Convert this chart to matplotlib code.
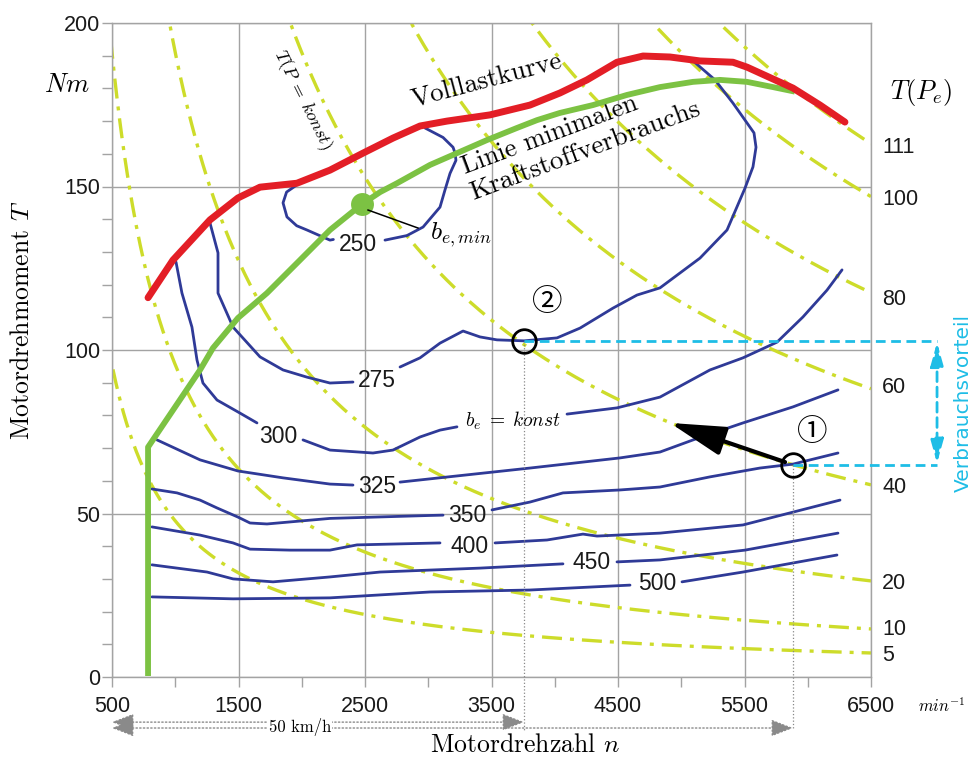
import numpy as np
import matplotlib
matplotlib.use("Agg")
import matplotlib.pyplot as plt

plt.rcParams['mathtext.fontset'] = 'cm'
plt.rcParams['font.family'] = ['Liberation Sans', 'DejaVu Sans']

nan = np.nan

# ---------------- data ----------------
full_load_n = [785, 982, 1275, 1496, 1670, 1962, 2223, 2484, 2721, 2935, 3148, 3488, 3804,
               4041, 4255, 4492, 4698, 4911, 5148, 5409, 5520, 5883, 6097, 6294]
full_load_T = [116, 127.5, 139.8, 146.5, 149.8, 151, 155, 160.2, 164.8, 168.5, 170, 171.9, 174.9,
               178.6, 182.6, 188, 189.9, 189.6, 188.4, 188, 186.5, 180.1, 174.9, 169.7]

min_cons_n = [785, 785, 982, 1196, 1298, 1496, 1725, 1986, 2223, 2476, 2620, 2753, 3014, 3227,
              3464, 3701, 3860, 4041, 4302, 4571, 4832, 5093, 5306, 5520, 5725, 5875]
min_cons_T = [1.2, 70.3, 81.6, 93.9, 100.6, 109.8, 117.4, 127.5, 136.7, 144.6, 148.3, 151, 156.6,
              160.2, 164.2, 167.9, 170.3, 172.5, 174.9, 178, 180.4, 182, 182.6, 182, 180.4, 179.2]

be_min_n, be_min_T = 2476, 144.6

# iso-power lines: power levels (kW)
power_kw = [5, 10, 20, 40, 60, 80, 100, 111]
power_label_T = [6.7, 14.4, 28.7, 57.8, 88.4, 115.3, 145.9, 162]

# lines of constant specific consumption b_e (g/kWh); nan = gap for the label
be250_n = [1962, 1880, 1852, 1883, 1960, 2041, 2223, 2250, nan, 2658, 2832, 2959, 3093, 3132, 3172,
           3219, 3212, 3196, 3117, 2974]
be250_T = [150.5, 148.3, 145, 140.7, 138, 136.7, 133.6, 133.8, nan, 133.6, 135, 137.6, 143.7, 148.9, 154,
           158, 160.2, 162, 165, 167.9]

be275_n = [1275, 1338, 1338, 1457, 1670, 1852, 2041, 2223, 2405, nan, 2777, 2935, 3093, 3275, 3409, 3543,
           3757, 4018, 4200, 4460, 4650, 4832, 5148, 5362, 5504, 5567, 5591, 5575, 5504, 5409, 5267, 5085]
be275_T = [138.8, 129.7, 117.4, 107, 97.9, 93.9, 91.7, 89.9, 90.2, nan, 94.8, 97.6, 102.1, 105.8, 104, 103.1,
           102.8, 103.7, 106.7, 112.8, 116.8, 119, 128.1, 136.7, 149.5, 156, 162, 166.4, 170.3, 175.5, 182.6, 188.7]

be300_n = [1006, 1053, 1132, 1172, 1219, 1330, 1512, 1646, nan, 2010, 2223, 2563, 2721, 2935, 3093, 3227,
           nan, 4097, 4492, 4832, 5227, 5488, 5757, 5962, 6152, 6271]
be300_T = [126.9, 117.4, 107, 96.9, 89.9, 84.7, 80.7, 77.7, nan, 72.5, 69.4, 68.5, 69.4, 73.4, 75.5, 76.5,
           nan, 80.4, 82.3, 85.6, 93.9, 97.6, 102.4, 110.1, 118.3, 124.5]

be325_n = [856, 1196, 1496, 1852, 2223, 2405, nan, 2777, 3804, 4516, 4832, 5093, 5488, 5883, 6239]
be325_T = [72.5, 66.4, 63, 60.9, 59, 58.7, nan, 59.6, 63.9, 67, 68.8, 72.5, 77.7, 82.6, 87.8]

be350_n = [816, 1014, 1196, 1330, 1496, 1591, 1725, 2223, 3014, 3117, nan, 3504, 3804, 4065, 4516, 4832,
           5227, 5622, 5883, 6239]
be350_T = [57.5, 56.3, 54.1, 51.7, 48.9, 47.1, 46.8, 48.5, 49.4, 49.5, nan, 51.1, 53.5, 56.3, 57.2, 58.1,
           61.2, 63.9, 65.1, 68.5]

be400_n = [816, 1196, 1457, 1591, 1907, 2223, 2437, 3093, nan, 3528, 3939, 4223, 4334, 4832, 5488, 6255]
be400_T = [45.9, 43.4, 41, 39.1, 38.8, 38.8, 40.4, 41, nan, 41, 41.9, 43.7, 43.1, 44, 46.5, 54.1]

be450_n = [816, 1251, 1457, 1773, 2223, 2619, 3409, 4065, nan, 4492, 4832, 5504, 6239]
be450_T = [34.3, 32.1, 30, 29.1, 30.6, 32.1, 33.3, 34.6, nan, 35.2, 35.8, 38.8, 44]

be500_n = [816, 1457, 2223, 3014, 3804, 4595, nan, 5006, 5488, 6231]
be500_T = [24.5, 23.9, 24.2, 26, 26.6, 28.1, nan, 29.1, 32.1, 37.3]

be_levels = [250, 275, 300, 325, 350, 400, 450, 500]
be_label_n = [2445, 2595, 1812, 2595, 3306, 3330, 4294, 4808]
be_label_T = [132.4, 90.8, 73.4, 58.4, 49.5, 39.8, 34.9, 28.7]

point1_n, point1_T = 5883, 64.9     # operating point 1
point2_n, point2_T = 3757, 102.8    # operating point 2

x_ticks = [500, 1500, 2500, 3500, 4500, 5500, 6500]
y_ticks = [0, 50, 100, 150, 200]

# ---------------- styling ----------------
RED = '#e31e26'
GREEN = '#7cc243'
BLUE = '#2f3a97'
YELLOW = '#cddc2a'
CYAN = '#1ebde6'
GRID = '#a3a3a3'
SERIF = 'cmr10'
CIRCLED = ['Noto Sans CJK JP', 'DejaVu Sans']

fig = plt.figure(figsize=(9.72, 7.58), dpi=100)
ax = fig.add_axes([112 / 972, 1 - 677 / 758, (871 - 112) / 972, (677 - 23) / 758])
ax.set_xlim(500, 6500)
ax.set_ylim(0, 200)
ax.set_axisbelow(True)

ax.set_xticks(x_ticks)
ax.set_xticks(np.arange(1000, 6001, 1000), minor=True)
ax.set_yticks(y_ticks)
ax.set_yticks(np.arange(0, 201, 10), minor=True)
ax.grid(True, which='major', color=GRID, lw=1.0)
ax.tick_params(which='both', direction='out', color=GRID, length=7, width=1,
               labelsize=15.5, labelcolor='#1a1a1a')
ax.tick_params(axis='x', which='major', pad=7)
ax.tick_params(axis='y', which='major', pad=1.5)
for s in ax.spines.values():
    s.set_color(GRID)
    s.set_linewidth(1.0)

# iso-power hyperbolas T = P / omega
n_grid = np.linspace(450, 6500, 600)
for P in power_kw:
    ax.plot(n_grid, P * 1000 / (2 * np.pi * n_grid / 60), color=YELLOW, lw=2.4,
            dashes=(6, 2.4, 1.2, 2.4), zorder=2, dash_capstyle='butt')
for P, Ty in zip(power_kw, power_label_T):
    ax.text(6587, Ty, str(P), fontsize=15.5, ha='left', va='center', color='#1a1a1a', clip_on=False)

# b_e = const lines
for bn, bT in [(be250_n, be250_T), (be275_n, be275_T), (be300_n, be300_T), (be325_n, be325_T),
               (be350_n, be350_T), (be400_n, be400_T), (be450_n, be450_T), (be500_n, be500_T)]:
    ax.plot(bn, bT, color=BLUE, lw=2.0, zorder=3, solid_capstyle='round', solid_joinstyle='round')
for lev, ln, lT in zip(be_levels, be_label_n, be_label_T):
    ax.text(ln, lT, str(lev), fontsize=16.5, ha='center', va='center', color='#1a1a1a', zorder=6)

# minimal consumption line and full-load curve
ax.plot(min_cons_n, min_cons_T, color=GREEN, lw=4.2, zorder=4, solid_joinstyle='round')
ax.plot(full_load_n, full_load_T, color=RED, lw=5, zorder=5, solid_capstyle='round',
        solid_joinstyle='round')
ax.plot([be_min_n], [be_min_T], 'o', color=GREEN, ms=16.5, mew=0, zorder=6)
ax.plot([2524, 2919], [142.8, 137.3], color='k', lw=1.1, zorder=6)
ax.text(3014, 135.2, r'$b_{e,min}$', fontsize=18.5, ha='left', va='center')

# texts on the curves
ax.text(2880, 174.3, 'Volllastkurve', fontfamily=SERIF, fontsize=19.3, rotation=14.8,
        rotation_mode='anchor', ha='left', va='baseline')
ax.text(3290, 153.8, 'Linie minimalen', fontfamily=SERIF, fontsize=19, rotation=20.5,
        rotation_mode='anchor', ha='left', va='baseline')
ax.text(3354, 145.9, 'Kraftstoffverbrauchs', fontfamily=SERIF, fontsize=19.5, rotation=20.5,
        rotation_mode='anchor', ha='left', va='baseline')
ax.text(2010, 176.5, r'$T(P\;=\;konst)$', fontsize=13, rotation=-63.4, rotation_mode='anchor',
        ha='center', va='center')
ax.text(3670, 78.3, r'$b_e\;=\;konst$', fontsize=14, ha='center', va='center')

# cyan consumption advantage
ax.plot([point2_n, 7022], [point2_T, point2_T], color=CYAN, lw=2, dashes=(3.5, 2),
        clip_on=False, zorder=6)
ax.plot([point1_n, 7022], [point1_T, point1_T], color=CYAN, lw=2, dashes=(3.5, 2),
        clip_on=False, zorder=6)
ax.annotate('', xy=(7022, point2_T - 0.5), xytext=(7022, point1_T + 0.5), annotation_clip=False,
            arrowprops=dict(arrowstyle='<|-|>,head_length=0.9,head_width=0.25', color=CYAN, lw=2,
                            linestyle=(0, (3.5, 2)), shrinkA=0, shrinkB=0, mutation_scale=16))
fig.text(963 / 972, 1 - 403 / 758, 'Verbrauchsvorteil', rotation=90, color=CYAN, fontsize=14.5,
         fontfamily='DejaVu Sans', ha='center', va='center')

# gray dotted verticals and speed arrows
ax.plot([point2_n, point2_n], [point2_T, -16.2], ls=':', color='#888888', lw=0.9, clip_on=False, zorder=3)
ax.plot([point1_n, point1_n], [point1_T, -16.2], ls=':', color='#888888', lw=0.9, clip_on=False, zorder=3)
for xe, ye in [(point2_n, -13.8), (point1_n, -15.6)]:
    ax.annotate('', xy=(xe, ye), xytext=(500, ye), annotation_clip=False,
                arrowprops=dict(arrowstyle='<|-|>,head_length=0.9,head_width=0.35', color='#8a8a8a',
                                lw=1, linestyle=':', shrinkA=0, shrinkB=0, mutation_scale=15))
ax.text(1986, -15.3, '50 km/h', fontfamily=SERIF, fontsize=12, ha='center', va='center',
        clip_on=False, bbox=dict(facecolor='white', edgecolor='none', pad=1))

# operating points
ax.plot([point1_n, point2_n], [point1_T, point2_T], 'o', mfc='none', mec='k', ms=17, mew=2, zorder=8)
ax.annotate('', xy=(4911, 77.7), xytext=(point1_n, point1_T),
            arrowprops=dict(arrowstyle='-|>,head_length=1.7,head_width=0.45', color='k', lw=3,
                            shrinkA=6, shrinkB=0, mutation_scale=20), zorder=8)
ax.text(3939, 114.4, '\u2461', fontsize=22, ha='center', va='center', family=CIRCLED)
ax.text(6034, 74.9, '\u2460', fontsize=22, ha='center', va='center', family=CIRCLED)

# axis titles and units
fig.text(525 / 972, 1 - 745 / 758, 'Motordrehzahl $n$', fontfamily=SERIF, fontsize=18.5,
         ha='center', va='center')
fig.text(22 / 972, 1 - 320 / 758, 'Motordrehmoment $T$', fontfamily=SERIF, fontsize=18.5,
         rotation=90, ha='center', va='center')
fig.text(67 / 972, 1 - 85 / 758, r'$Nm$', fontsize=19, ha='center', va='center')
fig.text(921 / 972, 1 - 93 / 758, r'$T(P_e)$', fontsize=19, ha='center', va='center')
fig.text(942 / 972, 1 - 706 / 758, r'$min^{-1}$', fontsize=12, ha='center', va='center')

fig.savefig('out.png', dpi=100, facecolor='white')
